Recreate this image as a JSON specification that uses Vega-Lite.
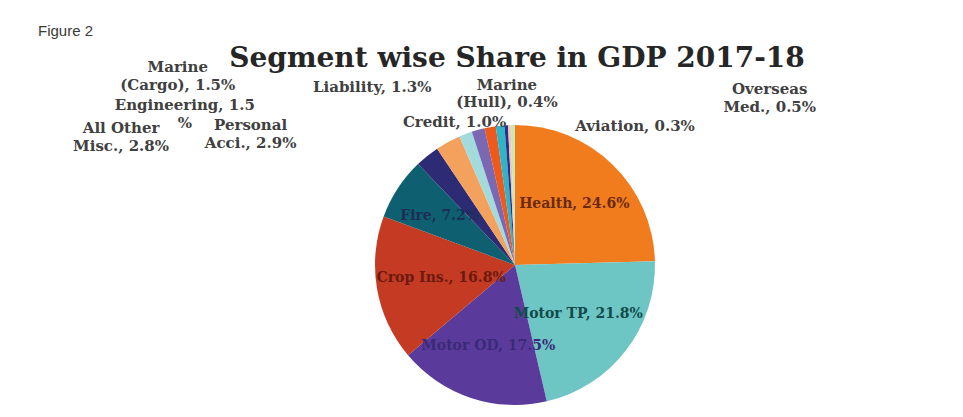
{
  "$schema": "https://vega.github.io/schema/vega-lite/v6.json",
  "autosize": "none",
  "padding": {"left": 375, "top": 125, "right": 308, "bottom": 292},
  "background": "#ffffff",
  "title": {"text": "Figure 2", "anchor": "start", "frame": "group", "dx": -337, "offset": 6, "font": "Liberation Sans", "fontSize": 15, "fontWeight": "normal", "color": "#3a3a3a"},
  "vconcat": [
    {
      "width": 280,
      "height": 280,
      "title": {"text": "Segment wise Share in GDP 2017-18", "anchor": "middle", "offset": -18, "dx": 2, "font": "DejaVu Serif", "fontSize": 28, "fontWeight": "bold", "color": "#262626"},
      "data": {
        "values": [
          {"segment": "Health", "label": "Health, 24.6%", "share": 24.6, "order": 1},
          {"segment": "Motor TP", "label": "Motor TP, 21.8%", "share": 21.8, "order": 2},
          {"segment": "Motor OD", "label": "Motor OD, 17.5%", "share": 17.5, "order": 3},
          {"segment": "Crop Ins.", "label": "Crop Ins., 16.8%", "share": 16.8, "order": 4},
          {"segment": "Fire", "label": "Fire, 7.2%", "share": 7.2, "order": 5},
          {"segment": "All Other Misc.", "label": "All Other\nMisc., 2.8%", "share": 2.8, "order": 6},
          {"segment": "Personal Acci.", "label": "Personal\nAcci., 2.9%", "share": 2.9, "order": 7},
          {"segment": "Engineering", "label": "Engineering, 1.5\n%", "share": 1.5, "order": 8},
          {"segment": "Marine (Cargo)", "label": "Marine\n(Cargo), 1.5%", "share": 1.5, "order": 9},
          {"segment": "Liability", "label": "Liability, 1.3%", "share": 1.3, "order": 10},
          {"segment": "Credit", "label": "Credit, 1.0%", "share": 1.0, "order": 11},
          {"segment": "Marine (Hull)", "label": "Marine\n(Hull), 0.4%", "share": 0.4, "order": 12},
          {"segment": "Aviation", "label": "Aviation, 0.3%", "share": 0.3, "order": 13},
          {"segment": "Overseas Med.", "label": "Overseas\nMed., 0.5%", "share": 0.5, "order": 14}
        ]
      },
      "layer": [
        {
          "mark": {"type": "arc", "outerRadius": 140},
          "encoding": {
            "theta": {"field": "share", "type": "quantitative", "stack": true},
            "order": {"field": "order", "type": "quantitative"},
            "color": {
              "field": "segment", "type": "nominal", "legend": null,
              "scale": {
                "domain": ["Health", "Motor TP", "Motor OD", "Crop Ins.", "Fire", "All Other Misc.", "Personal Acci.", "Engineering", "Marine (Cargo)", "Liability", "Credit", "Marine (Hull)", "Aviation", "Overseas Med."],
                "range": ["#F07C1E", "#6EC6C4", "#5A3B9B", "#C43A22", "#0E6070", "#2E2B75", "#F3A15C", "#A3DADC", "#7B68B5", "#EE5A1C", "#2FB4C8", "#2A2E8C", "#F4C4AC", "#CDE6B6"]
              }
            }
          }
        },
        {
          "mark": {"type": "text", "radius": 85, "font": "DejaVu Serif", "fontWeight": "bold", "fontSize": 14, "fill": "#6B2A10", "align": "center", "baseline": "middle"},
          "encoding": {"theta": {"field": "share", "type": "quantitative", "stack": true}, "order": {"field": "order", "type": "quantitative"}, "text": {"condition": {"test": "datum.segment === 'Health'", "field": "label"}, "value": ""}}
        },
        {
          "mark": {"type": "text", "radius": 80, "font": "DejaVu Serif", "fontWeight": "bold", "fontSize": 14, "fill": "#114B4B", "align": "center", "baseline": "middle"},
          "encoding": {"theta": {"field": "share", "type": "quantitative", "stack": true}, "order": {"field": "order", "type": "quantitative"}, "text": {"condition": {"test": "datum.segment === 'Motor TP'", "field": "label"}, "value": ""}}
        },
        {
          "mark": {"type": "text", "radius": 85, "font": "DejaVu Serif", "fontWeight": "bold", "fontSize": 14, "fill": "#3A2A78", "align": "center", "baseline": "middle"},
          "encoding": {"theta": {"field": "share", "type": "quantitative", "stack": true}, "order": {"field": "order", "type": "quantitative"}, "text": {"condition": {"test": "datum.segment === 'Motor OD'", "field": "label"}, "value": ""}}
        },
        {
          "mark": {"type": "text", "radius": 75, "font": "DejaVu Serif", "fontWeight": "bold", "fontSize": 14, "fill": "#6A1A0E", "align": "center", "baseline": "middle"},
          "encoding": {"theta": {"field": "share", "type": "quantitative", "stack": true}, "order": {"field": "order", "type": "quantitative"}, "text": {"condition": {"test": "datum.segment === 'Crop Ins.'", "field": "label"}, "value": ""}}
        },
        {
          "mark": {"type": "text", "radius": 90, "font": "DejaVu Serif", "fontWeight": "bold", "fontSize": 14, "fill": "#1B2E55", "align": "center", "baseline": "middle"},
          "encoding": {"theta": {"field": "share", "type": "quantitative", "stack": true}, "order": {"field": "order", "type": "quantitative"}, "text": {"condition": {"test": "datum.segment === 'Fire'", "field": "label"}, "value": ""}}
        },
        {
          "mark": {"type": "text", "radius": 145, "dx": -303, "dy": -24, "font": "DejaVu Serif", "fontWeight": "bold", "fontSize": 15, "fill": "#404040", "align": "center", "baseline": "middle", "lineBreak": "\n", "lineHeight": 18},
          "encoding": {"theta": {"field": "share", "type": "quantitative", "stack": true}, "order": {"field": "order", "type": "quantitative"}, "text": {"condition": {"test": "datum.segment === 'All Other Misc.'", "field": "label"}, "value": ""}}
        },
        {
          "mark": {"type": "text", "radius": 145, "dx": -195, "dy": -13, "font": "DejaVu Serif", "fontWeight": "bold", "fontSize": 15, "fill": "#404040", "align": "center", "baseline": "middle", "lineBreak": "\n", "lineHeight": 18},
          "encoding": {"theta": {"field": "share", "type": "quantitative", "stack": true}, "order": {"field": "order", "type": "quantitative"}, "text": {"condition": {"test": "datum.segment === 'Personal Acci.'", "field": "label"}, "value": ""}}
        },
        {
          "mark": {"type": "text", "radius": 145, "dx": -279, "dy": -24, "font": "DejaVu Serif", "fontWeight": "bold", "fontSize": 15, "fill": "#404040", "align": "center", "baseline": "middle", "lineBreak": "\n", "lineHeight": 18},
          "encoding": {"theta": {"field": "share", "type": "quantitative", "stack": true}, "order": {"field": "order", "type": "quantitative"}, "text": {"condition": {"test": "datum.segment === 'Engineering'", "field": "label"}, "value": ""}}
        },
        {
          "mark": {"type": "text", "radius": 145, "dx": -299, "dy": -58, "font": "DejaVu Serif", "fontWeight": "bold", "fontSize": 15, "fill": "#404040", "align": "center", "baseline": "middle", "lineBreak": "\n", "lineHeight": 18},
          "encoding": {"theta": {"field": "share", "type": "quantitative", "stack": true}, "order": {"field": "order", "type": "quantitative"}, "text": {"condition": {"test": "datum.segment === 'Marine (Cargo)'", "field": "label"}, "value": ""}}
        },
        {
          "mark": {"type": "text", "radius": 145, "dx": -117, "dy": -35, "font": "DejaVu Serif", "fontWeight": "bold", "fontSize": 15, "fill": "#404040", "align": "center", "baseline": "middle", "lineBreak": "\n", "lineHeight": 18},
          "encoding": {"theta": {"field": "share", "type": "quantitative", "stack": true}, "order": {"field": "order", "type": "quantitative"}, "text": {"condition": {"test": "datum.segment === 'Liability'", "field": "label"}, "value": ""}}
        },
        {
          "mark": {"type": "text", "radius": 145, "dx": -45, "dy": 1, "font": "DejaVu Serif", "fontWeight": "bold", "fontSize": 15, "fill": "#404040", "align": "center", "baseline": "middle", "lineBreak": "\n", "lineHeight": 18},
          "encoding": {"theta": {"field": "share", "type": "quantitative", "stack": true}, "order": {"field": "order", "type": "quantitative"}, "text": {"condition": {"test": "datum.segment === 'Credit'", "field": "label"}, "value": ""}}
        },
        {
          "mark": {"type": "text", "radius": 145, "dx": 1, "dy": -35, "font": "DejaVu Serif", "fontWeight": "bold", "fontSize": 15, "fill": "#404040", "align": "center", "baseline": "middle", "lineBreak": "\n", "lineHeight": 17},
          "encoding": {"theta": {"field": "share", "type": "quantitative", "stack": true}, "order": {"field": "order", "type": "quantitative"}, "text": {"condition": {"test": "datum.segment === 'Marine (Hull)'", "field": "label"}, "value": ""}}
        },
        {
          "mark": {"type": "text", "radius": 145, "dx": 126, "dy": 6, "font": "DejaVu Serif", "fontWeight": "bold", "fontSize": 15, "fill": "#404040", "align": "center", "baseline": "middle", "lineBreak": "\n", "lineHeight": 18},
          "encoding": {"theta": {"field": "share", "type": "quantitative", "stack": true}, "order": {"field": "order", "type": "quantitative"}, "text": {"condition": {"test": "datum.segment === 'Aviation'", "field": "label"}, "value": ""}}
        },
        {
          "mark": {"type": "text", "radius": 145, "dx": 257, "dy": -31, "font": "DejaVu Serif", "fontWeight": "bold", "fontSize": 15, "fill": "#404040", "align": "center", "baseline": "middle", "lineBreak": "\n", "lineHeight": 18},
          "encoding": {"theta": {"field": "share", "type": "quantitative", "stack": true}, "order": {"field": "order", "type": "quantitative"}, "text": {"condition": {"test": "datum.segment === 'Overseas Med.'", "field": "label"}, "value": ""}}
        }
      ]
    }
  ],
  "config": {"view": {"stroke": null}}
}
